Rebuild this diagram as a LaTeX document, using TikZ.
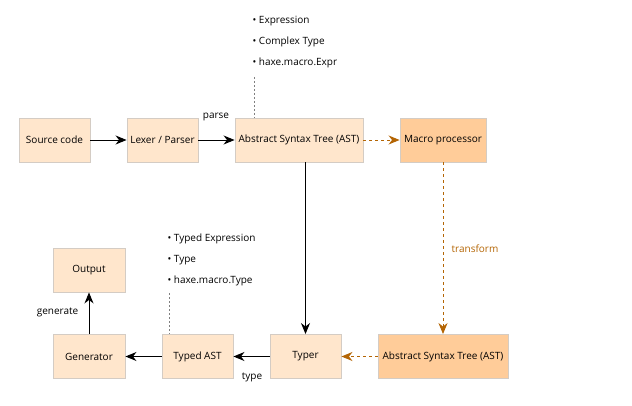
\documentclass[tikz,border=0pt]{standalone}
\usepackage{fontspec}
\setmainfont{Open Sans}
\usetikzlibrary{arrows.meta}
\definecolor{boxlight}{HTML}{FFE6CC}
\definecolor{boxdark}{HTML}{FFCC99}
\definecolor{boxline}{HTML}{D4CCC4}
\definecolor{macroline}{HTML}{B46504}
\tikzset{
  stage/.style={draw=boxline, fill=boxlight, line width=0.9pt, minimum height=44pt, inner sep=0pt, font=\fontsize{10}{12}\selectfont},
  stagedark/.style={stage, fill=boxdark},
  flow/.style={line width=0.9pt, -{Stealth[length=11pt,width=9pt,inset=3.5pt]}},
  macroflow/.style={flow, draw=macroline, dashed, dash pattern=on 3pt off 3pt, -{Stealth[length=11pt,width=9pt,inset=3.5pt,fill=macroline]}},
  note/.style={draw=gray, dashed, dash pattern=on 2pt off 2pt, line width=0.7pt},
  item/.style={anchor=west, inner sep=0pt, font=\fontsize{10}{12}\selectfont},
  lbl/.style={inner sep=0pt, font=\fontsize{10}{12}\selectfont}
}
\begin{document}
\begin{tikzpicture}[x=1pt, y=-1pt]
  \useasboundingbox (0,0) rectangle (632,406);
  % top row
  \node[stage, minimum width=71pt] (src) at (54.5,140) {Source code};
  \node[stage, minimum width=71pt] (lex) at (162.5,140) {Lexer / Parser};
  \node[stage, minimum width=128pt] (ast) at (299,140) {Abstract Syntax Tree (AST)};
  \node[stagedark, minimum width=86pt] (macro) at (443,140) {Macro processor};
  % bottom row
  \node[stage, minimum width=72pt] (out) at (89,270) {Output};
  \node[stage, minimum width=72pt] (gen) at (89,356.5) {Generator};
  \node[stage, minimum width=71pt] (tast) at (197.5,356.5) {Typed AST};
  \node[stage, minimum width=71pt] (typer) at (305.5,356.5) {Typer};
  \node[stagedark, minimum width=130pt] (ast2) at (443,356.5) {Abstract Syntax Tree (AST)};
  % notes
  \foreach \i/\y/\lab in {1/21/Expression, 2/42/Complex Type, 3/63/haxe.macro.Expr}
    \node[item] (exprnote\i) at (252.5,\y) {\textbullet\hspace{2.5pt}\lab};
  \foreach \i/\y/\lab in {1/239/Typed Expression, 2/260/Type, 3/281/haxe.macro.Type}
    \node[item] (typenote\i) at (167.5,\y) {\textbullet\hspace{2.5pt}\lab};
  \coordinate (astnote) at (254,77);
  \coordinate (tastnote) at (169,293);
  \draw[note] (astnote) -- (astnote |- ast.north);
  \draw[note] (tastnote) -- (tastnote |- tast.north);
  % connectors
  \draw[flow] (src) -- (lex);
  \draw[flow] (lex) -- (ast);
  \draw[macroflow] (ast) -- (macro);
  \draw[macroflow] (macro.south -| ast2.north) -- (ast2.north);
  \draw[macroflow] (ast2) -- (typer);
  \draw[flow] (typer.north |- ast.south) -- (typer.north);
  \draw[flow] (typer) -- (tast);
  \draw[flow] (tast) -- (gen);
  \draw[flow] (gen) -- (out);
  % labels
  \node[lbl] (parselbl) at (216,117) {parse};
  \node[lbl] (typelbl) at (252,377) {type};
  \node[lbl] (genlbl) at (57.5,312) {generate};
  \node[lbl, text=macroline] (translbl) at (475,249) {transform};
\end{tikzpicture}
\end{document}
